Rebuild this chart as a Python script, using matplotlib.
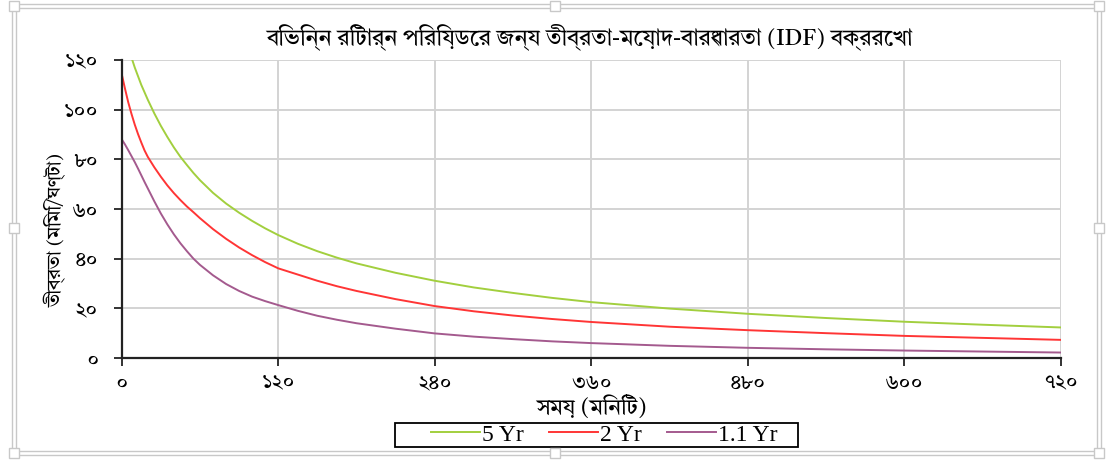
import matplotlib
matplotlib.use("Agg")
import matplotlib.pyplot as plt
from matplotlib import font_manager as fm
from matplotlib.patches import Rectangle

# ---------------- data ----------------
time_min = [0, 2.5, 5, 7.5, 10, 12.5, 15, 17.5, 20, 25, 30, 35, 40, 45, 50, 55, 60,
            70, 80, 90, 100, 110, 120, 135, 150, 165, 180, 210, 240, 270, 300,
            330, 360, 420, 480, 540, 600, 660, 720]
yr5 = [133, 129, 125, 121, 117, 113.5, 110, 107, 104, 98.5, 93.5, 89, 84.8, 81,
       77.7, 74.5, 71.6, 66.5, 62.2, 58.5, 55.2, 52.2, 49.5, 46, 43, 40.4, 38.1,
       34.3, 31.1, 28.4, 26.2, 24.2, 22.5, 19.9, 17.8, 16.1, 14.6, 13.4, 12.3]
yr2 = [114.4, 108.5, 103, 98.3, 94, 90.2, 86.8, 83.6, 81, 76.8, 73, 69.5, 66.4,
       63.6, 61, 58.7, 56.3, 51.9, 48, 44.5, 41.4, 38.6, 36.1, 33.6, 31.1, 28.9,
       27.0, 23.7, 20.9, 18.8, 17.1, 15.7, 14.5, 12.6, 11.2, 10.0, 8.9, 8.1, 7.3]
yr1_1 = [88.1, 86, 83.7, 81.3, 78.9, 76.3, 73.6, 70.9, 68.3, 63.1, 58.2, 53.8,
         49.8, 46.2, 43, 40, 37.5, 33.3, 29.8, 27.0, 24.7, 22.9, 21.3, 19.0, 17.0,
         15.4, 14.0, 11.8, 9.9, 8.6, 7.6, 6.7, 6.0, 4.9, 4.1, 3.5, 3.0, 2.6, 2.2]
series_labels = ["5 Yr", "2 Yr", "1.1 Yr"]
x_ticks = [0, 120, 240, 360, 480, 600, 720]
x_ticklabels = ["০", "১২০", "২৪০", "৩৬০", "৪৮০", "৬০০", "৭২০"]
y_ticks = [0, 20, 40, 60, 80, 100, 120]
y_ticklabels = ["০", "২০", "৪০", "৬০", "৮০", "১০০", "১২০"]
title = "বিভিন্ন রিটার্ন পিরিয়ডের জন্য তীব্রতা-মেয়াদ-বারংবারতা (IDF) বক্ররেখা"
xlabel = "সময় (মিনিট)"
ylabel = "তীব্রতা (মিমি/ঘণ্টা)"

# ---------------- fonts ----------------
available = {f.name for f in fm.fontManager.ttflist}
bn_pref = ["Tiro Bangla", "Noto Serif Bengali", "FreeSerif", "Noto Sans Bengali",
           "Lohit Bengali"]
bn_family = [n for n in bn_pref if n in available][:1] + ["DejaVu Sans"]
serif = ["Liberation Serif", "DejaVu Serif"]

colors = ["#A2CF3E", "#FF3535", "#A45A8E"]

W, H = 1108, 463
fig = plt.figure(figsize=(W / 100, H / 100), dpi=100)
fig.patch.set_facecolor("white")

L, R, B, T = 121.7, 1061.0, 358.0, 60.0
ax = fig.add_axes([L / W, 1 - B / H, (R - L) / W, (B - T) / H])

handles = []
for ys, c, lab in zip([yr5, yr2, yr1_1], colors, series_labels):
    h, = ax.plot(time_min, ys, color=c, lw=1.4, label=lab)
    handles.append(h)

ax.set_xlim(0, 720)
ax.set_ylim(0, 120)
ax.set_xticks(x_ticks)
ax.set_yticks(y_ticks)
ax.set_xticklabels(x_ticklabels, family=bn_family, fontsize=15)
ax.set_yticklabels(y_ticklabels, family=bn_family, fontsize=15)
ax.tick_params(axis="both", direction="out", length=6, width=1.3, color="#222222")
ax.tick_params(axis="x", pad=5)
ax.tick_params(axis="y", pad=11)
ax.grid(True, color="#D3D3D3", lw=1.4)
ax.set_axisbelow(True)
for s in ["top", "right"]:
    ax.spines[s].set_visible(False)
for s in ["left", "bottom"]:
    ax.spines[s].set_linewidth(1.6)
    ax.spines[s].set_color("#222222")

fig.text(589 / W, 1 - 37 / H, title, family=bn_family, fontsize=16.3,
         ha="center", va="center")
fig.text(591 / W, 1 - 407 / H, xlabel, family=bn_family, fontsize=16,
         ha="center", va="center", fontweight="bold")
fig.text(56 / W, 1 - 231 / H, ylabel, family=bn_family, fontsize=14,
         ha="center", va="center", rotation=90, fontweight="bold")

# legend: box drawn separately to match the reference's asymmetric padding
fig.add_artist(Rectangle((395 / W, 1 - 447 / H), (798 - 395) / W, 24 / H,
                         transform=fig.transFigure, fc="white", ec="black",
                         lw=1.3, zorder=4))
leg = fig.legend(handles=handles, labels=series_labels, loc="center",
                 bbox_to_anchor=(604 / W, 1 - 435 / H),
                 bbox_transform=fig.transFigure, ncol=3, frameon=False,
                 prop={"family": serif, "size": 17}, handlelength=2.08,
                 handletextpad=0.08, columnspacing=1.06, borderpad=0,
                 borderaxespad=0)
leg.set_zorder(6)

# chart frame (selection border)
fc = "#C8C8C8"
for (x0, y0, x1, y1) in [(12, 4, 1101, 455), (16, 8, 1097, 451)]:
    fig.add_artist(Rectangle((x0 / W, 1 - y1 / H), (x1 - x0) / W, (y1 - y0) / H,
                             transform=fig.transFigure, fill=False, ec=fc, lw=1.0))
for (hx, hy) in [(14, 6), (1099, 6), (14, 453), (1099, 453),
                 (14, 228), (1099, 228), (555, 453), (555, 6)]:
    fig.add_artist(Rectangle(((hx - 5) / W, 1 - (hy + 5) / H), 10 / W, 10 / H,
                             transform=fig.transFigure, fc="white", ec=fc, lw=1.0,
                             zorder=7))

fig.savefig("out.png", dpi=100, facecolor="white")
